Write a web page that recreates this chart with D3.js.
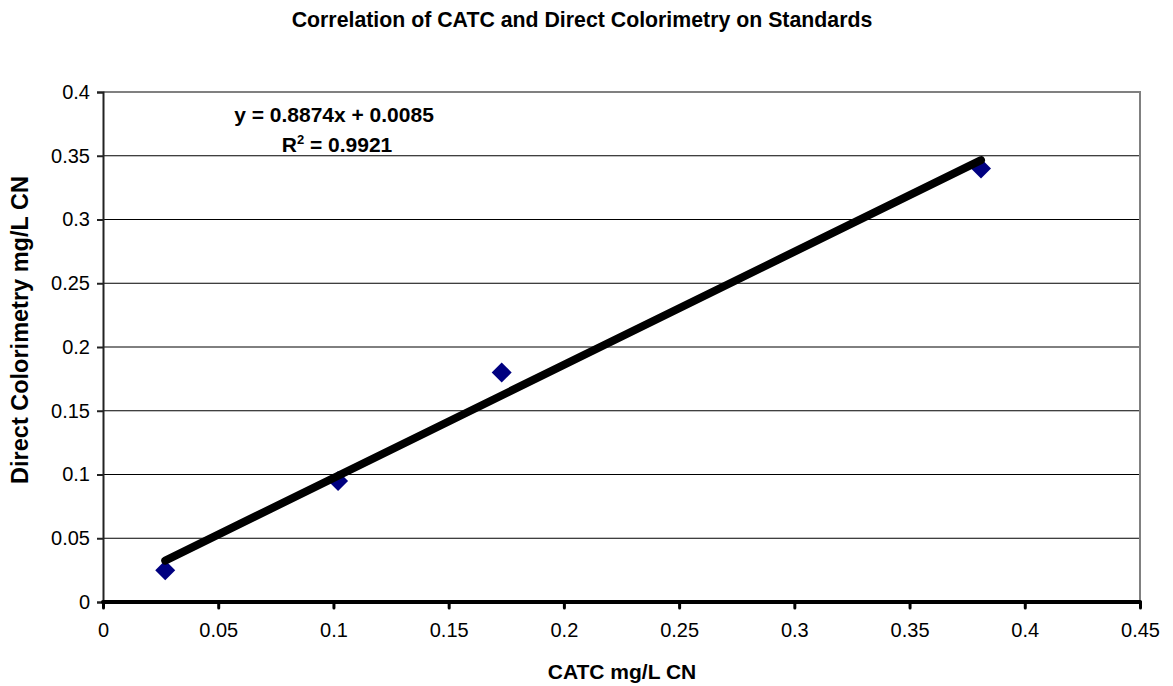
<!DOCTYPE html>
<html>
<head>
<meta charset="utf-8">
<script src="https://cdn.jsdelivr.net/npm/d3@7"></script>
<style>
  body { margin: 0; background: #fff; }
  text { font-family: "Liberation Sans", Arial, sans-serif; }
</style>
</head>
<body>
<svg width="1173" height="686"></svg>
<script>
// data
const catc = [0.027, 0.102, 0.173, 0.381];
const colorimetry = [0.025, 0.095, 0.18, 0.34];
const xTicks = [0, 0.05, 0.1, 0.15, 0.2, 0.25, 0.3, 0.35, 0.4, 0.45];
const yTicks = [0, 0.05, 0.1, 0.15, 0.2, 0.25, 0.3, 0.35, 0.4];
const slope = 0.8874, intercept = 0.0085;

const svg = d3.select("svg"),
  width = +svg.attr("width"),
  height = +svg.attr("height");

const plotLeft = 103, plotRight = 1140, plotTop = 92, plotBottom = 602;

const x = d3.scaleLinear().domain([0, 0.45]).range([plotLeft, plotRight]);
const y = d3.scaleLinear().domain([0, 0.4]).range([plotBottom, plotTop]);

// Title
svg.append("text")
  .attr("x", 582).attr("y", 27)
  .attr("text-anchor", "middle")
  .style("font-size", "21.3px").style("font-weight", "bold")
  .text("Correlation of CATC and Direct Colorimetry on Standards");

// Gridlines
svg.append("g")
  .selectAll("line")
  .data(yTicks.filter(d => d > 0 && d < 0.4))
  .join("line")
  .attr("x1", plotLeft).attr("x2", plotRight)
  .attr("y1", d => y(d)).attr("y2", d => y(d))
  .attr("stroke", "#000").attr("stroke-width", 1);

// Plot border (top and right grey)
svg.append("path")
  .attr("d", `M${plotLeft},${plotTop}H${plotRight}V${plotBottom}`)
  .attr("fill", "none")
  .attr("stroke", "#808080")
  .attr("stroke-width", 2);

const fmt = d => String(+d.toFixed(2));

// Y axis
const yAxis = svg.append("g")
  .attr("transform", `translate(${plotLeft},0)`)
  .call(d3.axisLeft(y).tickValues(yTicks).tickFormat(fmt).tickSize(6).tickPadding(7));
yAxis.select(".domain").attr("stroke", "#222").attr("stroke-width", 2);
yAxis.selectAll(".tick line").attr("stroke", "#222").attr("stroke-width", 2);
yAxis.selectAll(".tick text").style("font-size", "20px").attr("fill", "#000");

// X axis
const xAxis = svg.append("g")
  .attr("transform", `translate(0,${plotBottom})`)
  .call(d3.axisBottom(x).tickValues(xTicks).tickFormat(fmt).tickSize(6).tickPadding(15));
xAxis.select(".domain").remove();
xAxis.selectAll(".tick line").attr("stroke", "#000").attr("stroke-width", 3).attr("stroke-linecap", "round");
xAxis.selectAll(".tick text").style("font-size", "20px").attr("fill", "#000");
svg.append("line")
  .attr("x1", x(0)).attr("x2", x(0.45))
  .attr("y1", plotBottom).attr("y2", plotBottom)
  .attr("stroke", "#000").attr("stroke-width", 4)
  .attr("stroke-linecap", "round");

// Axis titles
svg.append("text")
  .attr("x", 622).attr("y", 679)
  .attr("text-anchor", "middle")
  .style("font-size", "21px").style("font-weight", "bold")
  .text("CATC mg/L CN");

svg.append("text")
  .attr("transform", `translate(28,330) rotate(-90)`)
  .attr("text-anchor", "middle")
  .style("font-size", "23.5px").style("font-weight", "bold")
  .text("Direct Colorimetry mg/L CN");

// Points
const data = catc.map((d, i) => ({ x: d, y: colorimetry[i] }));
svg.append("g")
  .selectAll("path")
  .data(data)
  .join("path")
  .attr("d", "M0,-10L10,0L0,10L-10,0Z")
  .attr("transform", d => `translate(${x(d.x)},${y(d.y)})`)
  .attr("fill", "#000080");

// Trendline
const xMin = d3.min(catc), xMax = d3.max(catc);
svg.append("line")
  .attr("x1", x(xMin)).attr("y1", y(slope * xMin + intercept))
  .attr("x2", x(xMax)).attr("y2", y(slope * xMax + intercept))
  .attr("stroke", "#000").attr("stroke-width", 8)
  .attr("stroke-linecap", "round");

// Equation
svg.append("text")
  .attr("x", 334).attr("y", 122)
  .attr("text-anchor", "middle")
  .style("font-size", "21px").style("font-weight", "bold")
  .text("y = 0.8874x + 0.0085");

const r2 = svg.append("text")
  .attr("x", 337).attr("y", 152)
  .attr("text-anchor", "middle")
  .style("font-size", "21px").style("font-weight", "bold");
r2.append("tspan").text("R");
r2.append("tspan").attr("dy", -8).style("font-size", "13px").text("2");
r2.append("tspan").attr("dy", 8).text(" = 0.9921");
</script>
</body>
</html>
